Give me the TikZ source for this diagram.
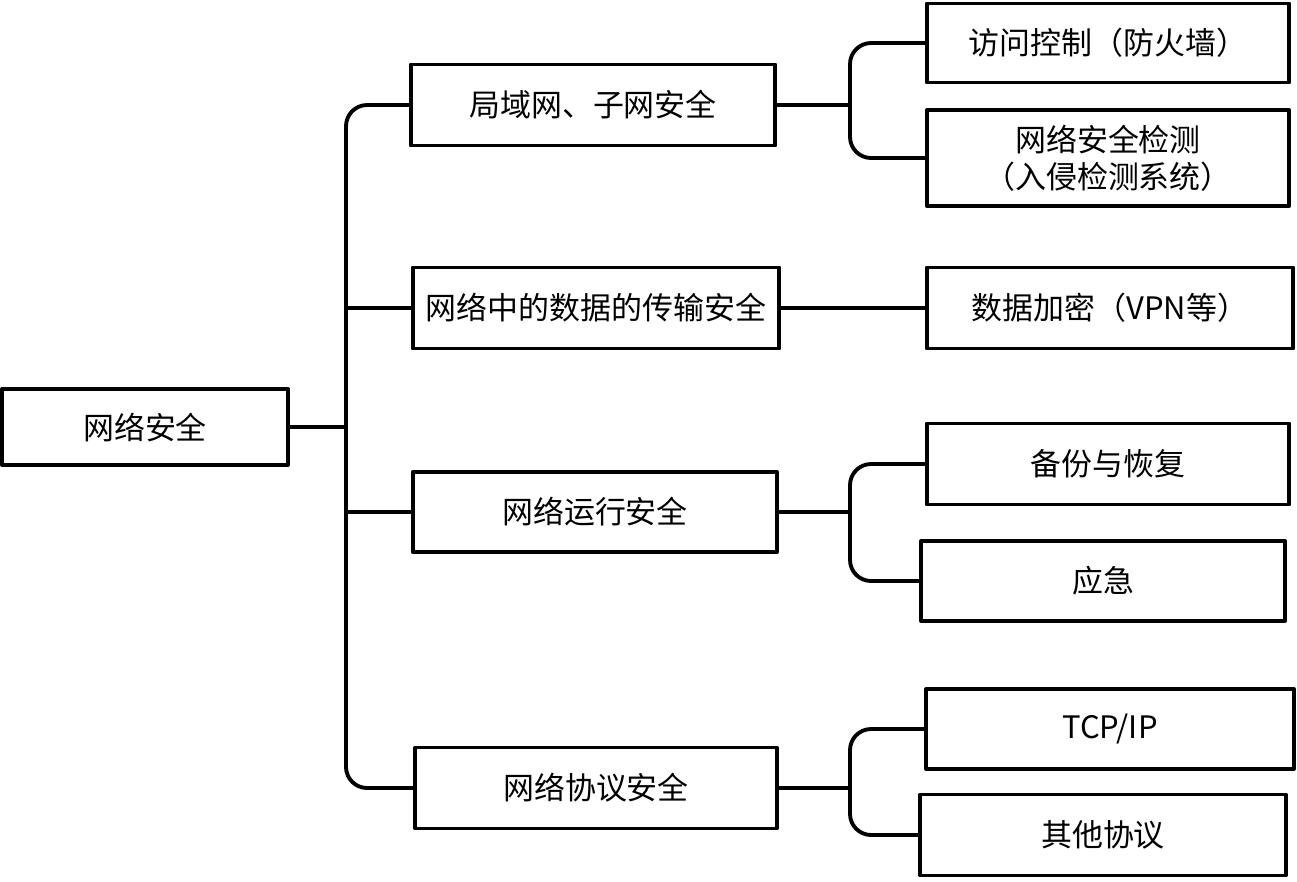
\documentclass[tikz,border=0pt]{standalone}
\usepackage{fontspec}
\newfontfamily\cjk{Noto Sans CJK SC}
\begin{document}
\begin{tikzpicture}[x=0.01cm, y=-0.01cm, line join=round, line cap=round,
	font=\cjk\fontsize{8.8pt}{10.6pt}\selectfont,
	box/.style={draw, line width=1.1pt, align=center, inner sep=0pt},
	link/.style={line width=1.1pt, rounded corners=6}]
	\useasboundingbox (0,0) rectangle (1297,881);
	\def\trunk{346} \def\brx{850} % x of the two vertical bars
	% root and middle level
	\node[box, minimum width=2.86cm, minimum height=0.76cm] (root) at (145,427) {网络安全};
	\node[box, minimum width=3.64cm, minimum height=0.81cm] (lan) at (593,105) {局域网、子网安全};
	\node[box, minimum width=3.66cm, minimum height=0.81cm] (trans) at (596,308) {网络中的数据的传输安全};
	\node[box, minimum width=3.64cm, minimum height=0.80cm] (run) at (595,512) {网络运行安全};
	\node[box, minimum width=3.61cm, minimum height=0.81cm] (proto) at (596,788) {网络协议安全};
	% leaves
	\node[box, minimum width=3.62cm, minimum height=0.79cm] (acl) at (1108,43) {访问控制（防火墙）};
	\node[box, minimum width=3.62cm, minimum height=0.96cm] (ids) at (1108,158) {网络安全检测\\（入侵检测系统）};
	\node[box, minimum width=3.66cm, minimum height=0.81cm] (vpn) at (1110,308) {数据加密（VPN等）};
	\node[box, minimum width=3.62cm, minimum height=0.81cm] (backup) at (1108,464) {备份与恢复};
	\node[box, minimum width=3.64cm, minimum height=0.80cm] (emerg) at (1103,581) {应急};
	\node[box, minimum width=3.67cm, minimum height=0.80cm] (tcpip) at (1110,729) {TCP/IP};
	\node[box, minimum width=3.65cm, minimum height=0.81cm] (other) at (1103,835) {其他协议};
	\coordinate (t) at (\trunk,0);
	\coordinate (b) at (\brx,0);
	% trunk
	\draw[link] (lan.west) -| (t |- proto) -- (proto.west);
	\draw[link] (root.east) -- (t |- root);
	\draw[link] (t |- trans) -- (trans.west);
	\draw[link] (t |- run) -- (run.west);
	% brackets
	\foreach \m/\p/\q in {lan/acl/ids, run/backup/emerg, proto/tcpip/other}{
		\draw[link] (\p.west) -| (b |- \q) -- (\q.west);
		\draw[link] (\m.east) -- (b |- \m);
	}
	\draw[link] (trans.east) -- (vpn.west);
\end{tikzpicture}
\end{document}
